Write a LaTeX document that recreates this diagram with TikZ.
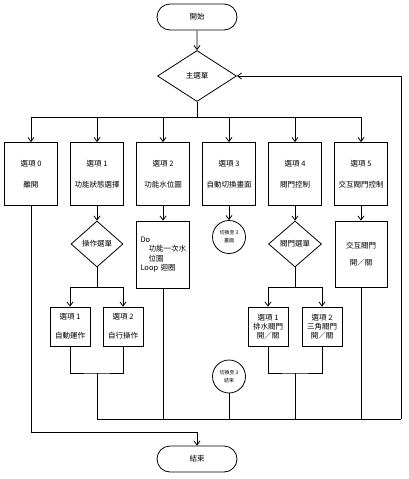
\documentclass[tikz,border=0pt]{standalone}
\usepackage{fontspec}
\setmainfont{Noto Sans CJK TC}
\usetikzlibrary{arrows.meta,positioning,calc,shapes.geometric,shapes.misc}

\begin{document}
\begin{tikzpicture}[x=1pt,y=-1pt,line width=0.8pt,
		font=\fontsize{7.5}{9.3}\selectfont,
		terminal/.style={rounded rectangle,draw,minimum width=80pt,minimum height=26pt,inner sep=0pt},
		choice/.style={diamond,draw,inner sep=0pt},
		option/.style={rectangle,draw,minimum width=53pt,minimum height=63pt,inner sep=0pt,align=center},
		subbox/.style={rectangle,draw,minimum width=40pt,minimum height=39pt,inner sep=0pt,align=center},
		jump/.style={circle,draw,minimum size=33pt,inner sep=0pt,align=center,font=\fontsize{5}{8}\selectfont},
		arr/.style={-{Straight Barb[length=4pt,width=6pt]}}]
		\useasboundingbox (0,0) rectangle (409,479);
		
		% Start and main menu
		\node[terminal] (start) at (197,17) {開始};
		\node[choice,minimum width=79pt,minimum height=51pt] (menu) at (197,76) {主選單};
		\draw[arr] (start) -- (menu);
		
		% Option boxes
		\foreach \i/\t in {0/離開,1/功能狀態選擇,2/功能水位圖,3/自動切換畫面,4/閥門控制,5/交互閥門控制} {
			\node[option] (op\i) at (31+\i*66,174) {選項 \i\\[11.7pt]\t};
		}
		
		% Menu branches
		\coordinate (split) at (197,117);
		\draw (menu.south) -- (split);
		\draw (op0.north |- split) -- (op5.north |- split);
		\foreach \i in {0,...,5} {
			\draw[arr] (op\i.north |- split) -- (op\i);
		}
		
		% Option 1: mode menu
		\node[choice,minimum width=52pt,minimum height=46pt] (mode) at (97,244) {操作選單};
		\node[subbox] (auto) at (70,326.5) {選項 1\\[9.7pt]自動運作};
		\node[subbox] (self) at (123,326.5) {選項 2\\[9.7pt]自行操作};
		\coordinate (modesplit) at (97,287);
		\coordinate (modemerge) at (97,373);
		\draw[arr] (op1) -- (mode);
		\draw (mode) -- (modesplit);
		\draw (auto.north |- modesplit) -- (self.north |- modesplit);
		\draw[arr] (auto.north |- modesplit) -- (auto);
		\draw[arr] (self.north |- modesplit) -- (self);
		\draw (auto.south) |- (modemerge) -| (self.south);
		
		% Option 2: loop
		\node[rectangle,draw,minimum width=53pt,minimum height=67pt,inner sep=0pt,text width=45pt,align=left] (loop) at (163,254.5) {Do\\\hspace*{8pt}功能一次水\\\hspace*{8pt}位圖\\Loop 迴圈};
		\draw[arr] (op2) -- (loop);
		
		% Option 3: jumps
		\node[jump] (goto) at (229,237) {切換至 3\\畫面};
		\node[jump] (back) at (229,376.5) {切換至 3\\結束};
		\draw[arr] (op3) -- (goto);
		
		% Option 4: valve menu
		\node[choice,minimum width=53pt,minimum height=46pt] (valve) at (295,244) {閥門選單};
		\node[subbox] (drain) at (268,326.5) {選項 1\\排水閥門\\開／關};
		\node[subbox] (angle) at (322,326.5) {選項 2\\三角閥門\\開／關};
		\coordinate (valvesplit) at (295,287);
		\coordinate (valvemerge) at (295,373);
		\draw[arr] (op4) -- (valve);
		\draw (valve) -- (valvesplit);
		\draw (drain.north |- valvesplit) -- (angle.north |- valvesplit);
		\draw[arr] (drain.north |- valvesplit) -- (drain);
		\draw[arr] (angle.north |- valvesplit) -- (angle);
		\draw (drain.south) |- (valvemerge) -| (angle.south);
		
		% Option 5
		\node[rectangle,draw,minimum width=52pt,minimum height=66pt,inner sep=0pt,align=center] (all) at (361,254) {交互閥門\\[7.7pt]開／關};
		\draw[arr] (op5) -- (all);
		
		% Return to main menu
		\coordinate (join) at (401,419);
		\draw (modemerge) -- (modemerge |- join) -- (join);
		\draw (loop) -- (loop |- join);
		\draw (back) -- (back |- join);
		\draw (valvemerge) -- (valvemerge |- join);
		\draw (all) -- (all |- join);
		\draw[arr] (join) |- (menu.east);
		
		% Exit
		\node[terminal] (stop) at (197,459) {結束};
		\coordinate (exit) at (197,432);
		\draw (op0) |- (exit);
		\draw[arr] (exit) -- (stop);
	\end{tikzpicture}
\end{document}
